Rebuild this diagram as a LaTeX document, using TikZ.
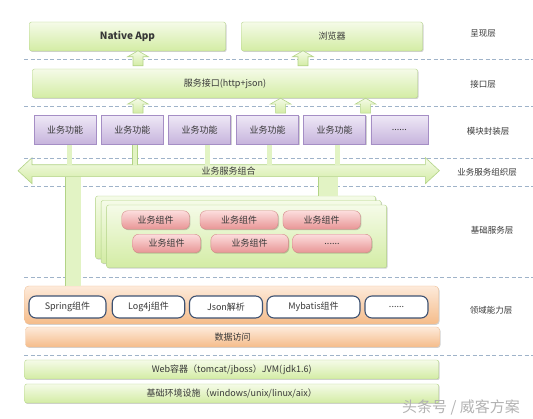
\documentclass[tikz,border=0pt]{standalone}
\usepackage{fontspec}
\setmainfont{Noto Sans CJK SC}
\usetikzlibrary{calc, backgrounds, shadows}

\definecolor{grnTop}{HTML}{F5FBE8}
\definecolor{grnBot}{HTML}{D3ECA4}
\definecolor{grnLine}{HTML}{B2D386}
\definecolor{barFill}{HTML}{E2F3C4}
\definecolor{purTop}{HTML}{EEE8F6}
\definecolor{purBot}{HTML}{C6B3DC}
\definecolor{purLine}{HTML}{A58EC5}
\definecolor{pinkTop}{HTML}{FCDDDD}
\definecolor{pinkBot}{HTML}{E89595}
\definecolor{pinkLine}{HTML}{D48888}
\definecolor{orgTop}{HTML}{FDEADA}
\definecolor{orgBot}{HTML}{F5BC8A}
\definecolor{orgLine}{HTML}{F0C29A}
\definecolor{slate}{HTML}{3E5272}
\definecolor{dashBlue}{HTML}{9FB3C9}
\definecolor{txt}{HTML}{383838}

\begin{document}
\begin{tikzpicture}[x=1pt, y=-1pt,
  every node/.style={text=txt, font=\fontsize{9}{10}\selectfont},
  softshadow/.style={drop shadow={shadow xshift=1pt, shadow yshift=-1pt, opacity=0.18, fill=black}},
  greenbox/.style={draw=grnLine, top color=grnTop, bottom color=grnBot, rounded corners=2pt,
                   inner sep=0pt, softshadow},
  modbox/.style={draw=purLine, top color=purTop, bottom color=purBot, inner sep=0pt,
                 minimum width=62pt, minimum height=29pt, softshadow},
  compbox/.style={draw=pinkLine, top color=pinkTop, bottom color=pinkBot, rounded corners=6pt,
                  inner sep=0pt, minimum height=18.5pt, softshadow},
  orangebox/.style={draw=orgLine, top color=orgTop, bottom color=orgBot, rounded corners=4pt,
                    inner sep=0pt, softshadow},
  libbox/.style={draw=slate, line width=1.1pt, fill=white, rounded corners=7pt,
                 inner sep=0pt, minimum height=22pt},
  layerline/.style={dashBlue, line width=0.8pt, dash pattern=on 4pt off 2.5pt},
  layername/.style={text=txt, font=\fontsize{8.5}{10}\selectfont},
  linkbar/.style={draw=grnLine, line width=0.6pt, double=barFill, double distance=4.5pt},
  widebar/.style={linkbar, double distance=15pt},
  arrowbox/.style={draw=grnLine, line width=0.6pt, top color=grnTop, bottom color=grnBot},
  uparrow/.pic={
    \draw[arrowbox] (-5pt,0) -- (-5pt,9pt) -- (-10.5pt,9pt) -- (0,15pt)
      -- (10.5pt,9pt) -- (5pt,9pt) -- (5pt,0) -- cycle;
  }
]
  \useasboundingbox (0,0) rectangle (533,419);

  % Layer separators
  \foreach \y in {59.5,106,158,186.5,277,355}
    \draw[layerline] (24,\y) -- (533,\y);

  % Presentation and interface
  \node[greenbox, minimum width=196pt, minimum height=29pt, font=\fontsize{10}{12}\selectfont\bfseries]
    (app) at (127.5,36.5) {Native App};
  \node[greenbox, minimum width=181pt, minimum height=29pt] (browser) at (332,36.5) {浏览器};
  \node[greenbox, minimum width=385pt, minimum height=29pt] (iface) at (225,83.5) {服务接口(http+json)};

  % Modules
  \node[modbox] (m1) at (65,130)    {业务功能};
  \node[modbox] (m2) at (132.4,130) {业务功能};
  \node[modbox] (m3) at (199.5,130) {业务功能};
  \node[modbox] (m4) at (267.5,130) {业务功能};
  \node[modbox] (m5) at (334.5,130) {业务功能};
  \node[modbox, minimum width=57pt] (m6) at (399.3,130) {......};

  % Up arrows
  \pic at ([xshift=-87pt,yshift=3pt]iface.north) {uparrow};
  \pic at ([xshift=78pt,yshift=3pt]iface.north) {uparrow};
  \pic at ([xshift=-87pt,yshift=-15pt]iface.south) {uparrow};
  \pic at ([xshift=55.6pt,yshift=-15pt]iface.south) {uparrow};
  \pic at ([xshift=140.6pt,yshift=-15pt]iface.south) {uparrow};

  % Service bus
  \node[minimum width=393pt, minimum height=11.5pt, inner sep=0pt] (bus) at (228.7,170.7) {业务服务组合};
  \begin{scope}[on background layer]
    \draw[arrowbox] (bus.north west) -- (bus.north east) -- ([yshift=7pt]bus.north east)
      -- ([xshift=14pt]bus.east) -- ([yshift=-7pt]bus.south east) -- (bus.south east)
      -- (bus.south west) -- ([yshift=-7pt]bus.south west) -- ([xshift=-14pt]bus.west)
      -- ([yshift=7pt]bus.north west) -- cycle;
  \end{scope}
  \foreach \m/\dx in {1/4.5,2/2.6,3/8,4/2,5/3}
    \draw[linkbar] ([xshift=\dx pt]m\m.south) -- ([xshift=\dx pt]m\m.south |- bus.north);

  % Basic services
  \node[greenbox, minimum width=280pt, minimum height=62.7pt] (base3) at (235.6,227.4) {};
  \node[greenbox, minimum width=280pt, minimum height=62.7pt] (base2) at (241.1,231.9) {};
  \node[greenbox, minimum width=280pt, minimum height=62.7pt] (base1) at (246.6,236.4) {};
  \node[compbox, minimum width=67.7pt] (c1) at (155.6,220) {业务组件};
  \node[compbox, minimum width=78pt]   (c2) at (239,220)   {业务组件};
  \node[compbox, minimum width=77.5pt] (c3) at (321.7,220) {业务组件};
  \node[compbox, minimum width=68pt]   (c4) at (166.7,243.5) {业务组件};
  \node[compbox, minimum width=77.5pt] (c5) at (249.6,243.5) {业务组件};
  \node[compbox, minimum width=79pt]   (c6) at (332,243.5)   {......};

  % Domain capabilities
  \node[orangebox, minimum width=414pt, minimum height=38pt] (dom) at (231.7,305) {};
  \node[libbox, minimum width=77pt]   (s1) at (67.5,307)  {Spring组件};
  \node[libbox, minimum width=72.5pt] (s2) at (148.5,307) {Log4j组件};
  \node[libbox, minimum width=73pt]   (s3) at (226,307)   {Json解析};
  \node[libbox, minimum width=93pt]   (s4) at (313.5,307) {Mybatis组件};
  \node[libbox, minimum width=63pt]   (s5) at (396.5,307) {......};
  \node[orangebox, rounded corners=3pt, minimum width=414pt, minimum height=20pt] (dao) at (232.5,337) {数据访问};

  % Links from the bus
  \draw[widebar] (73,0 |- bus.south) -- (73,0 |- dom.north);
  \draw[widebar, double distance=19pt] (328,0 |- bus.south) -- (328,0 |- base3.north);

  % Runtime and infrastructure
  \node[greenbox, minimum width=414pt, minimum height=19pt] (web) at (231.7,369.5)
    {Web容器（tomcat/jboss）JVM(jdk1.6)};
  \node[greenbox, minimum width=414pt, minimum height=19pt] (env) at (231.7,393.5)
    {基础环境设施（windows/unix/linux/aix）};

  % Layer names
  \node[layername] (l1) at (483,33)  {呈现层};
  \node[layername] (l2) at (483,84)  {接口层};
  \node[layername] (l3) at (488,131) {模块封装层};
  \node[layername] (l4) at (487,172) {业务服务组织层};
  \node[layername] (l5) at (492,230) {基础服务层};
  \node[layername] (l6) at (491,310) {领域能力层};

  \node[text=black!30, font=\fontsize{15}{16}\selectfont] (mark) at (461,407) {头条号 / 威客方案};
\end{tikzpicture}
\end{document}
